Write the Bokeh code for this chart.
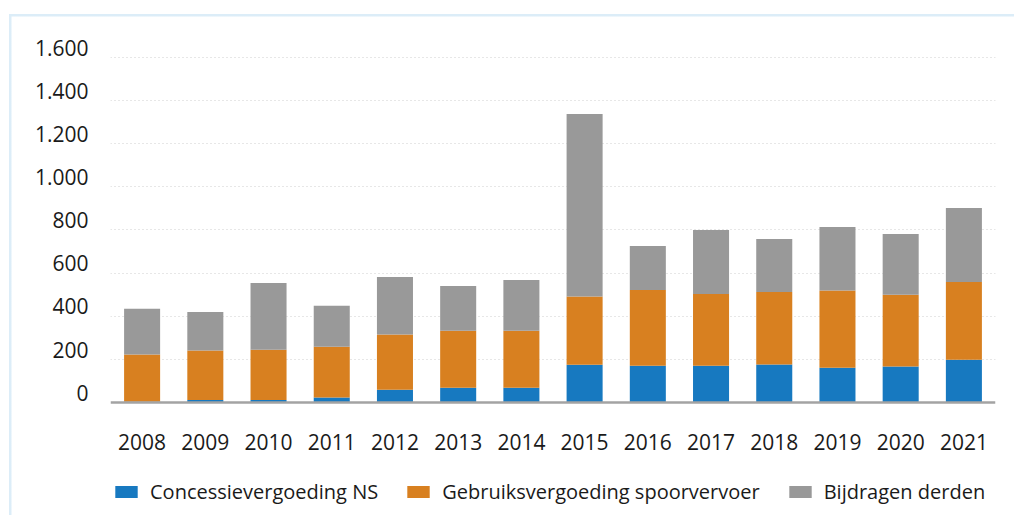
from bokeh.plotting import figure
from bokeh.models import (Range1d, FactorRange, LinearAxis, FixedTicker, Grid,
                          Legend, LegendItem, Span, ColumnDataSource)
from bokeh.embed import file_html
from bokeh.resources import INLINE

years = ["2008", "2009", "2010", "2011", "2012", "2013", "2014",
         "2015", "2016", "2017", "2018", "2019", "2020", "2021"]
concessie = [4, 12, 12, 23, 59, 68, 68, 175, 170, 170, 176, 161, 167, 198]
gebruik = [218, 229, 232, 235, 256, 265, 265, 316, 352, 333, 336, 358, 333, 361]
derden = [212, 179, 310, 190, 267, 207, 235, 846, 203, 297, 246, 294, 281, 342]

series_names = ["Concessievergoeding NS", "Gebruiksvergoeding spoorvervoer", "Bijdragen derden"]
series_keys = ["concessie", "gebruik", "derden"]
colors = ["#1779c0", "#d88020", "#999999"]

y_ticks = [0, 200, 400, 600, 800, 1000, 1200, 1400, 1600]
y_tick_labels = ["0", "200", "400", "600", "800", "1.000", "1.200", "1.400", "1.600"]

FONT = "Open Sans"
TXT = "#1a1a1a"
BORDER = "#dcedf8"

source = ColumnDataSource(dict(years=years, concessie=concessie, gebruik=gebruik, derden=derden))

p = figure(x_range=FactorRange(*years, range_padding=0), y_range=Range1d(-523.7, 1650),
           width=1014, height=515, frame_width=885, frame_height=469,
           min_border_left=110, min_border_right=19, min_border_top=46, min_border_bottom=0,
           output_backend="svg", toolbar_location=None,
           x_axis_location=None, y_axis_location=None,
           background_fill_color="white", border_fill_color=None)
p.outline_line_color = None
p.grid.visible = False
p.styles = {
    "background-color": "white",
    "background-image": f"linear-gradient({BORDER},{BORDER}), linear-gradient({BORDER},{BORDER})",
    "background-size": "100% 2.5px, 2.5px 100%",
    "background-position": "8.5px 13.8px, 8.5px 13.8px",
    "background-repeat": "no-repeat",
}

renderers = p.vbar_stack(series_keys, x="years", width=0.57, color=colors, source=source,
                         line_color=None)

# gridlines
grid = Grid(dimension=1, ticker=FixedTicker(ticks=y_ticks[1:]), grid_line_color="#cfcfcf",
            grid_line_dash="1 3", grid_line_width=1)
p.add_layout(grid)

# x axis line and year labels
p.add_layout(Span(location=0, dimension="width", line_color="#a3a3a3", line_width=2.5))
p.text(x=years, y=[0] * len(years), text=years, y_offset=39,
       text_align="center", text_baseline="middle",
       text_font={"value": FONT}, text_font_size="21px", text_color=TXT)

# y axis labels on slightly shifted range
p.extra_y_ranges = {"lab": Range1d(-523.7 - 45, 1650 - 45)}
ya = LinearAxis(y_range_name="lab", ticker=FixedTicker(ticks=y_ticks))
ya.major_label_overrides = {t: l for t, l in zip(y_ticks, y_tick_labels)}
ya.axis_line_color = None
ya.major_tick_line_color = None
ya.minor_tick_line_color = None
ya.major_label_text_font = FONT
ya.major_label_text_font_size = "21px"
ya.major_label_text_color = TXT
ya.major_label_standoff = 16
p.add_layout(ya, "left")

legend = Legend(items=[LegendItem(label=n, renderers=[r]) for n, r in zip(series_names, renderers)],
                orientation="horizontal", location=(2, 10), padding=0, margin=0, spacing=26,
                label_standoff=10, glyph_width=28, glyph_height=15,
                label_text_font=FONT, label_text_font_size="20px", label_text_color=TXT,
                border_line_color=None, background_fill_alpha=0)
p.add_layout(legend)

open("out.html", "w").write(file_html(p, INLINE))
